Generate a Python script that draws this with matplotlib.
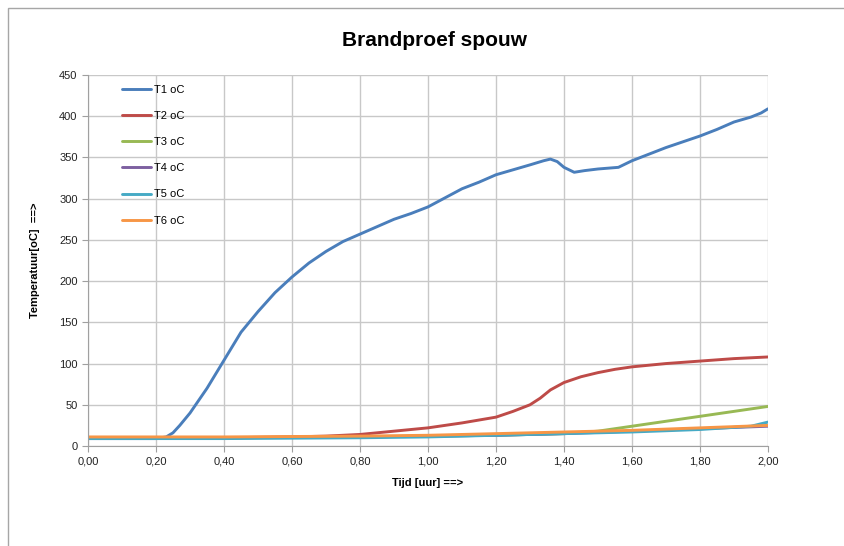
import matplotlib
matplotlib.use("Agg")
import matplotlib.pyplot as plt
from matplotlib.patches import Rectangle
from matplotlib.ticker import FuncFormatter, MultipleLocator

# Data
t1_time = [0.00, 0.10, 0.20, 0.23, 0.25, 0.27, 0.30, 0.35, 0.40, 0.45, 0.50, 0.55, 0.60, 0.65,
           0.70, 0.75, 0.80, 0.85, 0.90, 0.95, 1.00, 1.05, 1.10, 1.15, 1.20, 1.25, 1.30, 1.34,
           1.36, 1.38, 1.40, 1.43, 1.46, 1.50, 1.56, 1.60, 1.65, 1.70, 1.75, 1.80, 1.85, 1.90,
           1.95, 1.98, 2.00]
t1_vals = [9, 9, 9, 11, 16, 25, 40, 70, 104, 138, 163, 186, 205, 222,
           236, 248, 257, 266, 275, 282, 290, 301, 312, 320, 329, 335, 341, 346,
           348, 345, 338, 332, 334, 336, 338, 346, 354, 362, 369, 376, 384, 393,
           399, 404, 409]

t2_time = [0.00, 0.20, 0.40, 0.60, 0.70, 0.80, 0.90, 1.00, 1.10, 1.20, 1.25, 1.30, 1.33,
           1.36, 1.40, 1.45, 1.50, 1.55, 1.60, 1.70, 1.80, 1.90, 2.00]
t2_vals = [10, 10, 10, 11, 12, 14, 18, 22, 28, 35, 42, 50, 58,
           68, 77, 84, 89, 93, 96, 100, 103, 106, 108]

t3_time = [0.00, 0.40, 0.80, 1.00, 1.20, 1.40, 1.50, 1.60, 1.70, 1.80, 1.90, 2.00]
t3_vals = [10, 10, 11, 12, 13, 15, 18, 24, 30, 36, 42, 48]

t4_time = [0.00, 0.40, 0.80, 1.00, 1.20, 1.40, 1.60, 1.80, 2.00]
t4_vals = [10, 10, 11, 12, 13, 15, 18, 21, 24]

t5_time = [0.00, 0.40, 0.80, 1.00, 1.20, 1.40, 1.60, 1.80, 1.95, 2.00]
t5_vals = [9, 9, 10, 11, 13, 15, 17, 20, 24, 29]

t6_time = [0.00, 0.40, 0.80, 1.00, 1.20, 1.40, 1.60, 1.80, 2.00]
t6_vals = [11, 11, 12, 13, 15, 17, 19, 22, 25]

labels = ["T1 oC", "T2 oC", "T3 oC", "T4 oC", "T5 oC", "T6 oC"]
colors = ["#4A7EBB", "#BE4B48", "#98B954", "#7D60A0", "#46AAC5", "#F79646"]

plt.rcParams['font.family'] = ['Liberation Sans', 'DejaVu Sans']

fig = plt.figure(figsize=(8.44, 5.46), dpi=100)
fig.patches.append(Rectangle((8/844, -0.01), 1.0, 1 - 8/546 + 0.01, transform=fig.transFigure,
                             fill=False, edgecolor="#a6a6a6", linewidth=1.0))

ax = fig.add_axes([88/844, 1 - 446/546, 680/844, 371/546])

series = [(t1_time, t1_vals), (t2_time, t2_vals), (t3_time, t3_vals),
          (t4_time, t4_vals), (t5_time, t5_vals), (t6_time, t6_vals)]
for i in range(6):
    x, y = series[i]
    ax.plot(x, y, color=colors[i], linewidth=2.1, label=labels[i], solid_capstyle="round",
            solid_joinstyle="round")

ax.set_xlim(0, 2.0)
ax.set_ylim(0, 450)
ax.xaxis.set_major_locator(MultipleLocator(0.2))
ax.yaxis.set_major_locator(MultipleLocator(50))
ax.xaxis.set_major_formatter(FuncFormatter(lambda v, p: f"{v:.2f}".replace(".", ",")))
ax.grid(True, color="#c8c8c8", linewidth=1.0)
ax.set_axisbelow(True)
for s in ["top", "right"]:
    ax.spines[s].set_visible(False)
for s in ["left", "bottom"]:
    ax.spines[s].set_color("#a0a0a0")
ax.tick_params(axis="both", colors="#a0a0a0", labelcolor="#222222", labelsize=8, length=4, direction="out")

ax.set_xlabel("Tijd [uur] ==>", fontsize=8, fontweight="bold", labelpad=8)
ax.set_ylabel("Temperatuur[oC]  ==>", fontsize=8, fontweight="bold", labelpad=14)
fig.text(435/844, 1 - 40/546, "Brandproef spouw", ha="center", va="center", fontsize=15, fontweight="bold")

leg = ax.legend(loc="upper left", bbox_to_anchor=(0.035, 1.0), frameon=False, fontsize=8,
                handlelength=2.6, labelspacing=1.45, handletextpad=0.3)

fig.savefig("out.png", dpi=100)
